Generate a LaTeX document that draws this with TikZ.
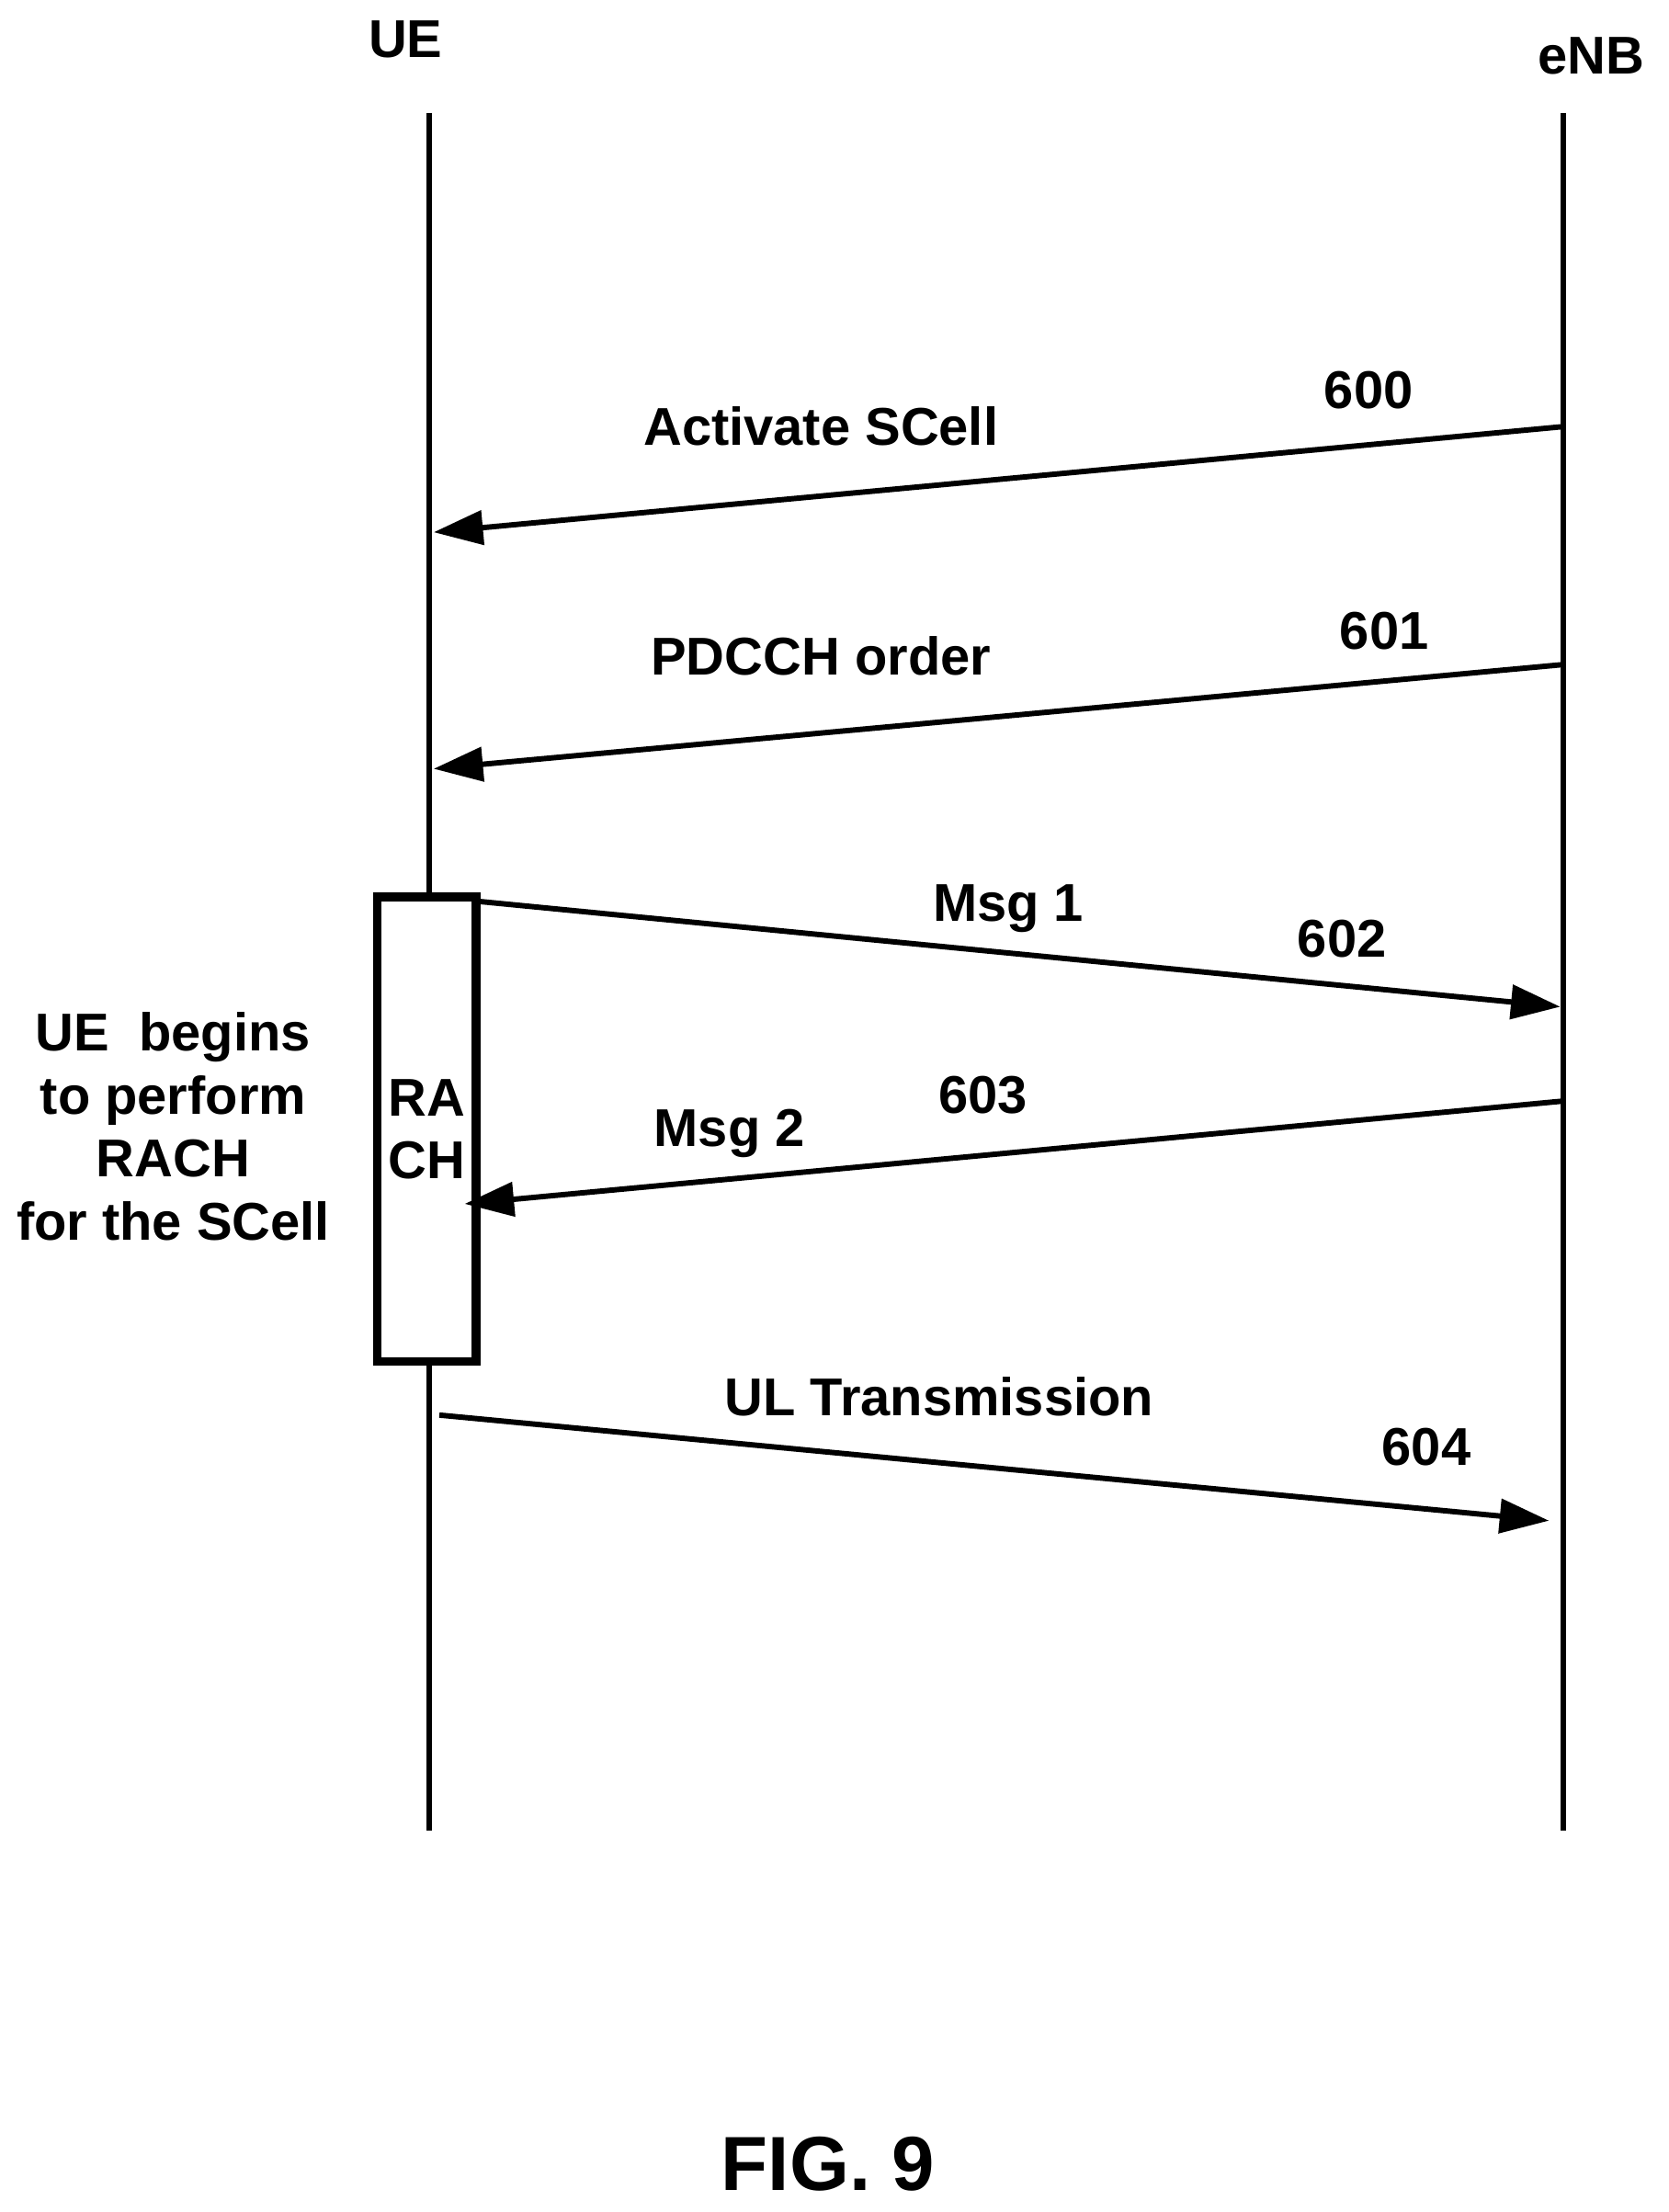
\documentclass[tikz,border=0pt]{standalone}
\usepackage{fontspec}
\setmainfont{Liberation Sans}
\usetikzlibrary{arrows.meta}
\tikzset{
  msg/.style={line width=2.2pt,-{Triangle[length=0.7cm,width=0.48cm]}},
  life/.style={line width=2.2pt},
  lbl/.style={font=\fontsize{21.5}{25.5}\selectfont\bfseries}
}
\begin{document}
\begin{tikzpicture}[x=0.02cm,y=-0.02cm]
    \useasboundingbox (0,0) rectangle (1185,1571);
    % entities and life lines
    \node [lbl] (ue) at (288,28) {UE};
    \node [lbl] (enb) at (1130,40) {eNB};
    \coordinate (ueTop) at (305,80);
    \coordinate (ueBot) at (305,1300);
    \coordinate (enbTop) at (1110,80);
    \coordinate (enbBot) at (1110,1300);
    \draw [life] (ueTop) -- (ueBot);
    \draw [life] (enbTop) -- (enbBot);
    % RACH box
    \node [draw,line width=3.5pt,fill=white,minimum width=1.4cm,minimum height=6.6cm,
      lbl,align=center,inner sep=0pt] (rach) at (303,802) {RA\\CH};
    \node [lbl,align=center] (note) at (123,800) {UE\ \ begins\\to perform\\RACH\\for the SCell};
    % messages
    \coordinate (a0) at (1110,303); \coordinate (b0) at (308,378);
    \coordinate (a1) at (1110,472); \coordinate (b1) at (308,546);
    \coordinate (a2) at (338,640);  \coordinate (b2) at (1108,715);
    \coordinate (a3) at (1110,782); \coordinate (b3) at (330,855);
    \coordinate (a4) at (312,1005); \coordinate (b4) at (1100,1080);
    \draw [msg] (a0) -- (b0);
    \draw [msg] (a1) -- (b1);
    \draw [msg] (a2) -- (b2);
    \draw [msg] (a3) -- (b3);
    \draw [msg] (a4) -- (b4);
    % labels
    \node [lbl] (m0) at (583,303) {Activate SCell};
    \node [lbl] (n0) at (972,277) {600};
    \node [lbl] (m1) at (583,466) {PDCCH order};
    \node [lbl] (n1) at (983,448) {601};
    \node [lbl] (m2) at (716,645) {Msg 1};
    \node [lbl] (n2) at (953,667) {602};
    \node [lbl] (m3) at (518,805) {Msg 2};
    \node [lbl] (n3) at (698,778) {603};
    \node [lbl] (m4) at (667,992) {UL Transmission};
    \node [lbl] (n4) at (1013,1028) {604};
    \node [font=\fontsize{31}{36}\selectfont\bfseries] (fig) at (588,1537) {FIG. 9};
\end{tikzpicture}
\end{document}
